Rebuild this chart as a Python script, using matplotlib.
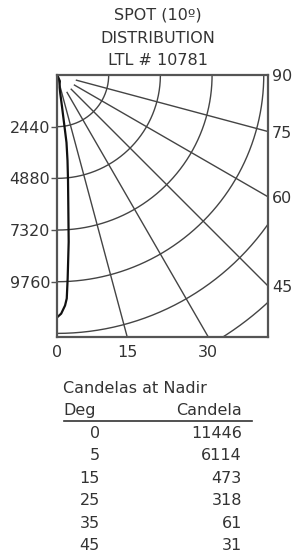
import numpy as np
import matplotlib
matplotlib.use("Agg")
import matplotlib.pyplot as plt

# candela curve (angle from nadir in deg, candela)
curve_deg = [0, 1, 2, 2.5, 3, 4, 5, 6, 7, 8, 9, 10, 12, 15, 25, 35, 45, 90]
curve_cd = [11446, 11270, 10890, 10560, 9620, 7900, 6114, 4970, 4070, 3220,
            1500, 900, 600, 473, 318, 61, 31, 0]

# grid
ring_cd = [2440, 4880, 7320, 9760, 12200, 14640]
ray_deg = [15, 30, 45, 60, 75]
left_labels = ["2440", "4880", "7320", "9760"]
bottom_labels = ["0", "15", "30"]
right_labels = ["90", "75", "60", "45"]

# table
table_deg = ["0", "5", "15", "25", "35", "45"]
table_cd = ["11446", "6114", "473", "318", "61", "31"]

W, H = 297, 554
X_MAX, Y_MAX = 9960, 12370
ink = "#333333"
grid_c = "#444444"
plt.rcParams["font.family"] = ["DejaVu Sans"]

fig = plt.figure(figsize=(W / 100, H / 100), dpi=100)
ax = fig.add_axes([57 / W, 1 - 337 / H, 211 / W, 262 / H])
ax.set_xlim(0, X_MAX)
ax.set_ylim(Y_MAX, 0)

# rings
t = np.radians(np.linspace(0, 90, 300))
for r in ring_cd:
    ax.plot(r * np.sin(t), r * np.cos(t), color=grid_c, lw=1.0)

# rays
for a in ray_deg:
    th = np.radians(a)
    r0 = 200 if a == 15 else 950
    ax.plot([r0 * np.sin(th), 30000 * np.sin(th)],
            [r0 * np.cos(th), 30000 * np.cos(th)], color=grid_c, lw=1.0)

# distribution curve
th = np.radians(curve_deg)
cd = np.array(curve_cd)
ax.plot(cd * np.sin(th), cd * np.cos(th), color="#111111", lw=1.6)

for s in ax.spines.values():
    s.set_color("#555555")
    s.set_linewidth(1.6)

fs = 11.5
ax.set_yticks(ring_cd[:4])
ax.set_yticklabels(left_labels)
ax.tick_params(axis="y", left=True, direction="out", length=4, width=1.0,
               color="#555555", pad=1, labelsize=fs, labelcolor=ink)

bx = [0] + [Y_MAX * np.tan(np.radians(a)) for a in (15, 30)]
ax.set_xticks(bx)
ax.set_xticklabels(bottom_labels)
ax.tick_params(axis="x", length=0, pad=6, labelsize=fs, labelcolor=ink)

ay = ax.secondary_yaxis("right")
ry = [0] + [X_MAX / np.tan(np.radians(a)) for a in (75, 60, 45)]
ay.set_yticks(ry)
ay.set_yticklabels(right_labels)
ay.tick_params(length=0, pad=3, labelsize=fs, labelcolor=ink)
ay.spines["right"].set_visible(False)

# title
for txt, yb in zip(["SPOT (10º)", "DISTRIBUTION", "LTL # 10781"], [20, 43, 65]):
    fig.text(157.5 / W, 1 - yb / H, txt, ha="center", va="baseline",
             fontsize=fs, color=ink)

# table
fig.text(63 / W, 1 - 393 / H, "Candelas at Nadir", ha="left", va="baseline",
         fontsize=fs, color=ink)
fig.text(63 / W, 1 - 415 / H, "Deg", ha="left", va="baseline",
         fontsize=fs, color=ink)
fig.text(242 / W, 1 - 415 / H, "Candela", ha="right", va="baseline",
         fontsize=fs, color=ink)
fig.add_artist(plt.Line2D([64 / W, 252 / W], [1 - 421 / H, 1 - 421 / H],
                          color=ink, lw=1.2))
for i, (d, c) in enumerate(zip(table_deg, table_cd)):
    yb = 438 + 22.4 * i
    fig.text(100 / W, 1 - yb / H, d, ha="right", va="baseline",
             fontsize=fs, color=ink)
    fig.text(242 / W, 1 - yb / H, c, ha="right", va="baseline",
             fontsize=fs, color=ink)

fig.savefig("out.png", dpi=100)
